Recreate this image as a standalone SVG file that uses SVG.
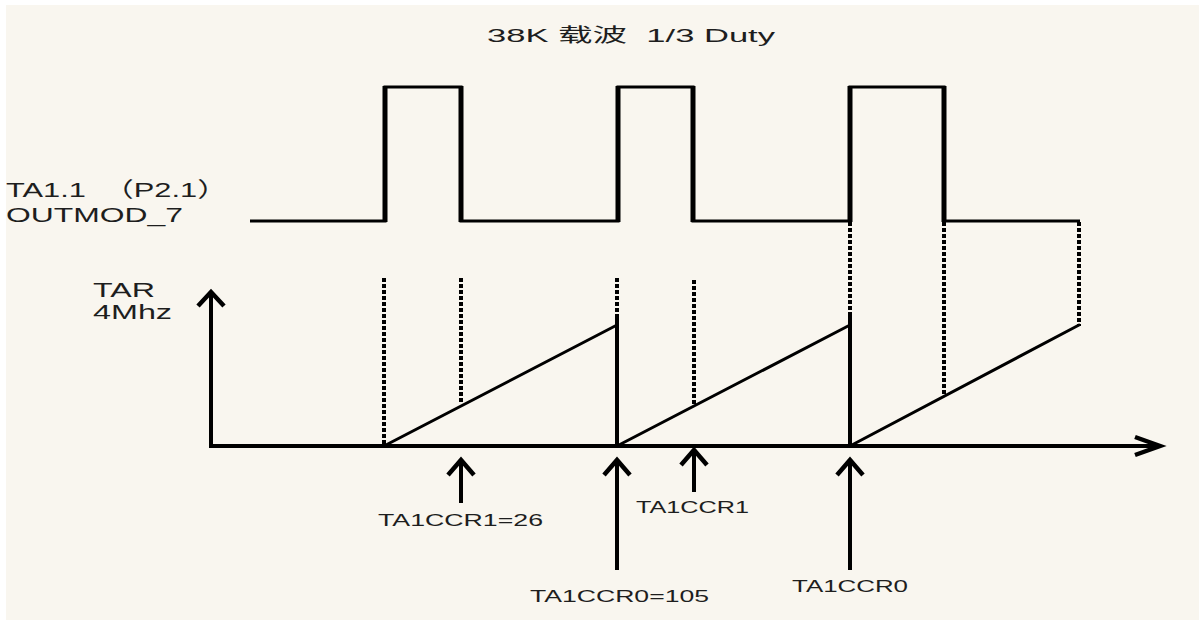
<svg xmlns="http://www.w3.org/2000/svg" width="1199" height="620" viewBox="0 0 1199 620">
  <defs>
    <style>
      .bg { fill: #F9F6EF; }
      .t { font-family: "Liberation Sans", "Noto Sans CJK SC", sans-serif; fill: #1e1e1e; }
      .wave { fill: none; stroke: #000; stroke-width: 3; stroke-linejoin: miter; }
      .edge { stroke: #000; stroke-width: 5; }
      .dash { stroke: #000; stroke-width: 4; stroke-dasharray: 4 2; }
      .solid { stroke: #000; stroke-width: 4; }
      .ramp { stroke: #000; stroke-width: 3; stroke-linecap: round; }
      .axis { stroke: #000; stroke-width: 4; fill: none; }
      .head { fill: none; stroke: #000; stroke-width: 4.5; stroke-linejoin: miter; }
    </style>
  </defs>
  <rect width="1199" height="620" fill="#ffffff"/>
  <rect class="bg" x="6" y="5" width="1193" height="615"/>

  <g id="title">
    <text class="t" x="487" y="42" font-size="19" textLength="288" lengthAdjust="spacingAndGlyphs" xml:space="preserve">38K 载波  1/3 Duty</text>
  </g>

  <g id="signal-label">
    <text class="t" x="6" y="197" font-size="21" textLength="222" lengthAdjust="spacingAndGlyphs" xml:space="preserve">TA1.1  （P2.1）</text>
    <text class="t" x="6" y="222" font-size="21" textLength="177" lengthAdjust="spacingAndGlyphs">OUTMOD_7</text>
  </g>

  <g id="tar-label">
    <text class="t" x="93" y="297" font-size="20" textLength="62" lengthAdjust="spacingAndGlyphs">TAR</text>
    <text class="t" x="93" y="319" font-size="20" textLength="79" lengthAdjust="spacingAndGlyphs">4Mhz</text>
  </g>

  <g id="square-wave">
    <path class="wave" d="M250,221 H385 V87 H461 V221 H618 V87 H693 V221 H850 V87 H944 V221 H1080"/>
    <line class="edge" x1="385" y1="86" x2="385" y2="222"/>
    <line class="edge" x1="461" y1="86" x2="461" y2="222"/>
    <line class="edge" x1="618" y1="86" x2="618" y2="222"/>
    <line class="edge" x1="693" y1="86" x2="693" y2="222"/>
    <line class="edge" x1="850" y1="86" x2="850" y2="222"/>
    <line class="edge" x1="944" y1="86" x2="944" y2="222"/>
  </g>

  <g id="tar-ramp">
    <line class="ramp" x1="384" y1="446" x2="617" y2="325"/>
    <line class="ramp" x1="617" y1="446" x2="850" y2="325"/>
    <line class="ramp" x1="850" y1="446" x2="1079" y2="325"/>
    <line class="solid" x1="617" y1="317" x2="617" y2="446"/>
    <line class="solid" x1="850" y1="312" x2="850" y2="446"/>
  </g>

  <g id="guides">
    <line class="dash" x1="384" y1="278" x2="384" y2="444"/>
    <line class="dash" x1="461" y1="278" x2="461" y2="404"/>
    <line class="dash" x1="617" y1="278" x2="617" y2="317"/>
    <line class="dash" x1="694" y1="280" x2="694" y2="404"/>
    <line class="dash" x1="850" y1="222" x2="850" y2="312"/>
    <line class="dash" x1="944" y1="222" x2="944" y2="395"/>
    <line class="dash" x1="1079" y1="222" x2="1079" y2="326"/>
  </g>

  <g id="axes">
    <line class="axis" x1="211" y1="446" x2="1160" y2="446"/>
    <polyline class="head" points="1135,437 1160,446 1135,455"/>
    <line class="axis" x1="211" y1="448" x2="211" y2="292"/>
    <polyline class="head" points="198,306 211,292 224,306"/>
  </g>

  <g id="markers">
    <line class="axis" x1="461" y1="460" x2="461" y2="503"/>
    <polyline class="head" points="448,475 461,460 474,475"/>
    <line class="axis" x1="617" y1="460" x2="617" y2="570"/>
    <polyline class="head" points="604,475 617,460 630,475"/>
    <line class="axis" x1="694" y1="450" x2="694" y2="492"/>
    <polyline class="head" points="681,465 694,450 707,465"/>
    <line class="axis" x1="850" y1="460" x2="850" y2="570"/>
    <polyline class="head" points="837,475 850,460 863,475"/>
  </g>

  <g id="marker-labels">
    <text class="t" x="378" y="526" font-size="17" textLength="165" lengthAdjust="spacingAndGlyphs">TA1CCR1=26</text>
    <text class="t" x="530" y="602" font-size="17" textLength="179" lengthAdjust="spacingAndGlyphs">TA1CCR0=105</text>
    <text class="t" x="636" y="513" font-size="17" textLength="113" lengthAdjust="spacingAndGlyphs">TA1CCR1</text>
    <text class="t" x="792" y="592" font-size="17" textLength="116" lengthAdjust="spacingAndGlyphs">TA1CCR0</text>
  </g>
</svg>
